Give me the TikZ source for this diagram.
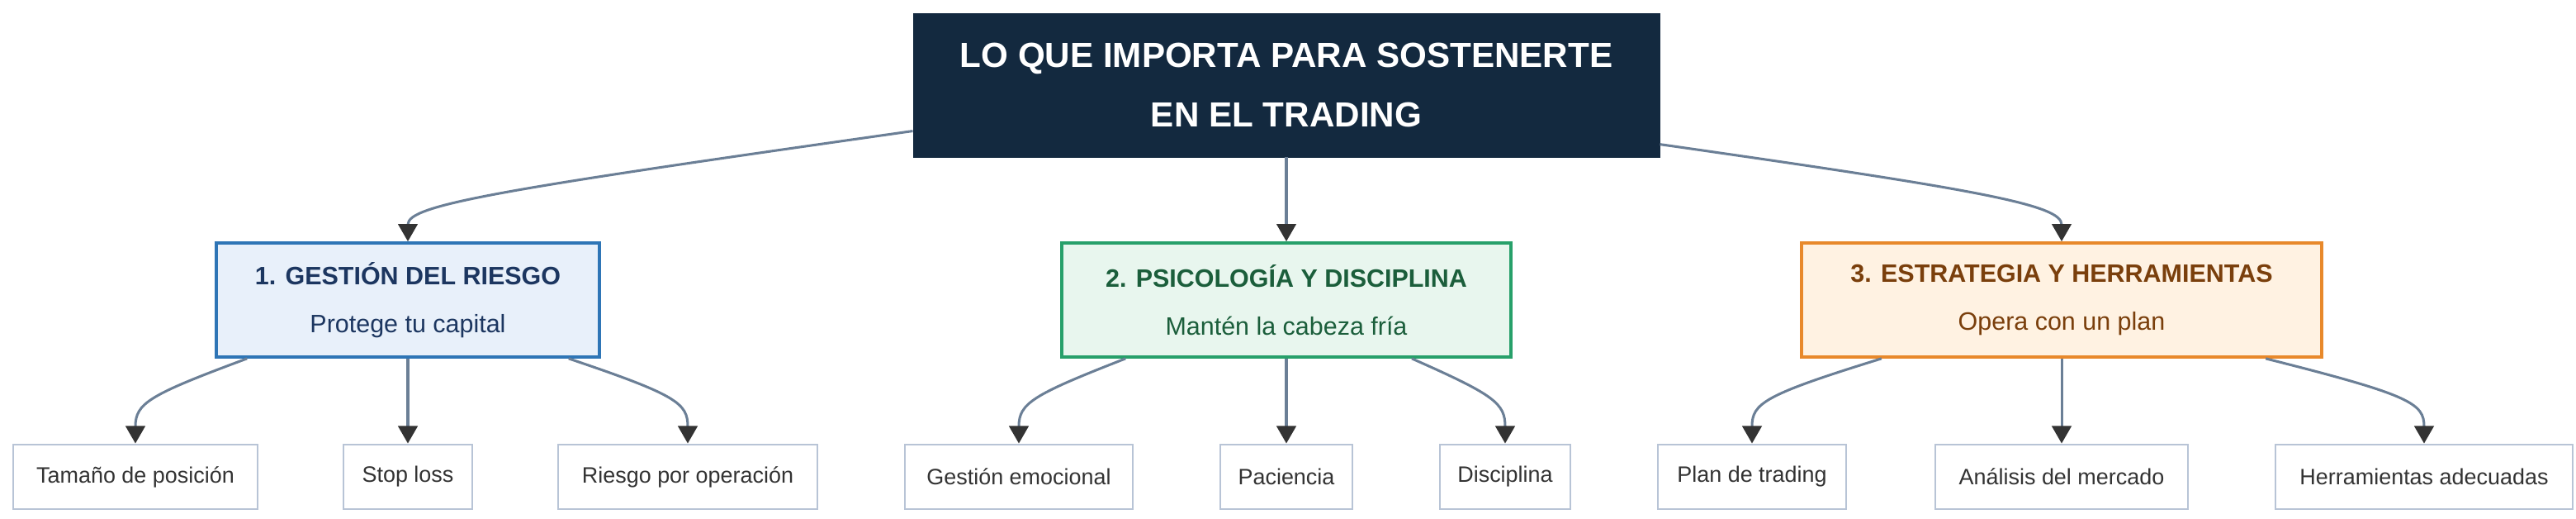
\documentclass[tikz,border=0pt]{standalone}
\usepackage{fontspec}
\setmainfont{Liberation Sans}
\usetikzlibrary{arrows.meta}
\definecolor{navy}{HTML}{13293F}
\definecolor{linkc}{HTML}{6B7F96}
\definecolor{leafc}{HTML}{B8C4D6}
\definecolor{bluef}{HTML}{E8F0FA}\definecolor{blued}{HTML}{2E75B6}\definecolor{bluet}{HTML}{1C3660}
\definecolor{greenf}{HTML}{E8F6EE}\definecolor{greend}{HTML}{27A06A}\definecolor{greent}{HTML}{1B5E3B}
\definecolor{orangef}{HTML}{FFF2E2}\definecolor{oranged}{HTML}{E8892B}\definecolor{oranget}{HTML}{7A3F0C}
\begin{document}
\begin{tikzpicture}[x=0.03cm,y=0.03cm,
    tnode/.style={fill=navy,draw=navy,text=white,font=\fontsize{18}{30.5}\selectfont\bfseries,align=center,minimum width=452*0.03cm,minimum height=87*0.03cm,inner sep=0pt},
    gnode/.style={draw,line width=1.6pt,align=center,minimum height=69*0.03cm,inner sep=0pt,font=\fontsize{13}{25}\selectfont},
    lnode/.style={draw=leafc,fill=white,line width=1.2pt,minimum height=39*0.03cm,inner sep=0pt,font=\fontsize{11.5}{13}\selectfont,text=black!80},
    link/.style={draw=linkc,line width=1.3pt,-{Triangle[length=9pt,width=10pt,color=black!80]}}]
    \useasboundingbox (0,0) rectangle (1560,314);
    \node[tnode] (top) at (779,262.5) {LO QUE IMPORTA PARA SOSTENERTE\\EN EL TRADING};
    \node[gnode,fill=bluef,draw=blued,text=bluet,minimum width=232*0.03cm] (riesgo) at (247,132.5) {\textbf{1. GESTIÓN DEL RIESGO}\\Protege tu capital};
    \node[gnode,fill=greenf,draw=greend,text=greent,minimum width=272*0.03cm] (psico) at (779,132.5) {\textbf{2. PSICOLOGÍA Y DISCIPLINA}\\Mantén la cabeza fría};
    \node[gnode,fill=orangef,draw=oranged,text=oranget,minimum width=315*0.03cm] (estra) at (1248.5,132.5) {\textbf{3. ESTRATEGIA Y HERRAMIENTAS}\\Opera con un plan};
    % hojas
    \node[lnode,minimum width=148*0.03cm] (tam) at (82,25.5) {Tamaño de posición};
    \node[lnode,minimum width=78*0.03cm] (stop) at (247,25.5) {Stop loss};
    \node[lnode,minimum width=157*0.03cm] (rpo) at (416.5,25.5) {Riesgo por operación};
    \node[lnode,minimum width=138*0.03cm] (emo) at (617,25.5) {Gestión emocional};
    \node[lnode,minimum width=80*0.03cm] (pac) at (779,25.5) {Paciencia};
    \node[lnode,minimum width=79*0.03cm] (dis) at (911.5,25.5) {Disciplina};
    \node[lnode,minimum width=114*0.03cm] (plan) at (1061,25.5) {Plan de trading};
    \node[lnode,minimum width=153*0.03cm] (ana) at (1248.5,25.5) {Análisis del mercado};
    \node[lnode,minimum width=180*0.03cm] (herr) at (1468,25.5) {Herramientas adecuadas};

    \draw[link] (top.187) .. controls (300,199) and (247,190) .. (riesgo.north);
    \draw[link] (top.south) -- (psico.north);
    \draw[link] (top.351.6) .. controls (1200,199) and (1248.5,190) .. (estra.north);
    \draw[link] (riesgo.200) .. controls (90,75) and (82,70) .. (tam.north);
    \draw[link] (riesgo.south) -- (stop.north);
    \draw[link] (riesgo.340) .. controls (410,75) and (416.5,70) .. (rpo.north);
    \draw[link] (psico.200) .. controls (625,75) and (617,70) .. (emo.north);
    \draw[link] (psico.south) -- (pac.north);
    \draw[link] (psico.335.6) .. controls (905,75) and (911.5,70) .. (dis.north);
    \draw[link] (estra.198) .. controls (1068,75) and (1061,70) .. (plan.north);
    \draw[link] (estra.south) -- (ana.north);
    \draw[link] (estra.344.6) .. controls (1460,75) and (1468,70) .. (herr.north);
\end{tikzpicture}
\end{document}
